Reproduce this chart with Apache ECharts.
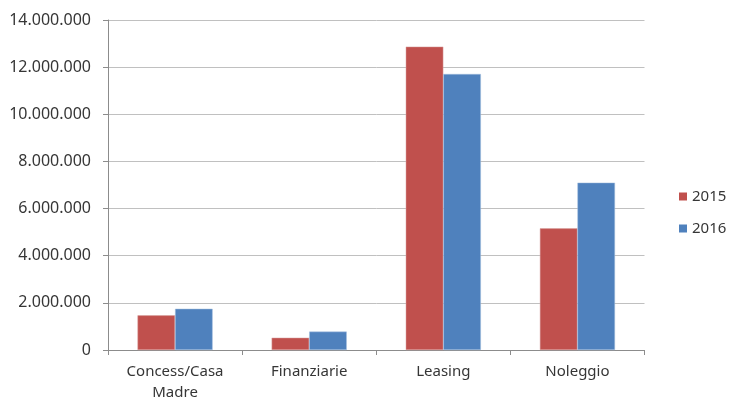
<!DOCTYPE html>
<html>
<head>
<meta charset="utf-8">
<script src="https://cdn.jsdelivr.net/npm/echarts@6/dist/echarts.min.js"></script>
<style>
  html, body { margin: 0; padding: 0; background: #fff; }
  #chart { width: 729px; height: 403px; }
</style>
</head>
<body>
<div id="chart"></div>
<script>
// data
var categories = ["Concess/Casa\nMadre", "Finanziarie", "Leasing", "Noleggio"];
var series_names = ["2015", "2016"];
var values_2015 = [1470000, 520000, 12870000, 5160000];
var values_2016 = [1750000, 780000, 11710000, 7100000];
var y_max = 14000000;
var y_step = 2000000;

function fmt(v) {
  return String(v).replace(/\B(?=(\d{3})+(?!\d))/g, ".");
}

var font = "Noto Sans";
var text_color = "#363636";

var option = {
  animation: false,
  textStyle: { fontFamily: font },
  legend: {
    orient: "vertical",
    left: 674,
    top: 184,
    itemWidth: 8,
    itemHeight: 8,
    itemGap: 17,
    icon: "rect",
    data: series_names,
    itemStyle: { borderWidth: 0 },
    textStyle: { fontFamily: font, fontSize: 15, color: text_color, padding: [0, 0, 0, 0] }
  },
  grid: {
    left: 108,
    right: 84.5,
    top: 20,
    bottom: 53,
    containLabel: false
  },
  xAxis: {
    type: "category",
    data: categories,
    axisLine: { lineStyle: { color: "#8c8c8c", width: 1 } },
    axisTick: { show: true, length: 5, lineStyle: { color: "#8c8c8c" } },
    axisLabel: {
      margin: 11,
      fontFamily: font,
      fontSize: 15,
      lineHeight: 21,
      color: text_color,
      interval: 0
    }
  },
  yAxis: {
    type: "value",
    min: 0,
    max: y_max,
    interval: y_step,
    axisLine: { show: true, lineStyle: { color: "#8c8c8c", width: 1 } },
    axisTick: { show: true, length: 5, lineStyle: { color: "#8c8c8c" } },
    splitLine: { lineStyle: { color: "#c0c0c0", width: 1 } },
    axisLabel: {
      margin: 17,
      fontFamily: font,
      fontSize: 16,
      color: text_color,
      formatter: fmt
    }
  },
  series: [
    {
      name: series_names[0],
      type: "bar",
      data: values_2015,
      barGap: "0%",
      barCategoryGap: "44%",
      itemStyle: { color: "#C0504D", borderColor: "#d9a3a1", borderWidth: 0.5 }
    },
    {
      name: series_names[1],
      type: "bar",
      data: values_2016,
      barGap: "0%",
      barCategoryGap: "44%",
      itemStyle: { color: "#4F81BD", borderColor: "#a7c0de", borderWidth: 0.5 }
    }
  ]
};

var chart = echarts.init(document.getElementById("chart"));
chart.setOption(option);
</script>
</body>
</html>
